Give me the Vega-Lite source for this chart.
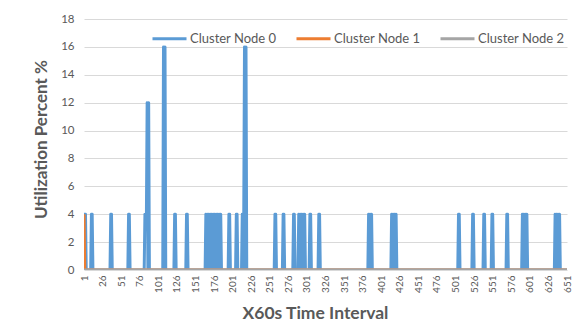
{
  "$schema": "https://vega.github.io/schema/vega-lite/v6.json",
  "autosize": "none",
  "width": 483,
  "height": 251,
  "padding": {"left": 84, "top": 19, "right": 6, "bottom": 59},
  "background": "white",
  "config": {
    "font": "Lato",
    "view": {"stroke": null},
    "axis": {"labelColor": "#595959", "titleColor": "#595959", "titleFontWeight": "bold"}
  },
  "data": {
    "values": [
      {"node": "Cluster Node 0", "interval": 1, "util": 0},
      {"node": "Cluster Node 0", "interval": 2, "util": 4},
      {"node": "Cluster Node 0", "interval": 3, "util": 4},
      {"node": "Cluster Node 0", "interval": 4, "util": 0},
      {"node": "Cluster Node 0", "interval": 10, "util": 0},
      {"node": "Cluster Node 0", "interval": 11, "util": 4},
      {"node": "Cluster Node 0", "interval": 12, "util": 4},
      {"node": "Cluster Node 0", "interval": 13, "util": 0},
      {"node": "Cluster Node 0", "interval": 36, "util": 0},
      {"node": "Cluster Node 0", "interval": 37, "util": 4},
      {"node": "Cluster Node 0", "interval": 38, "util": 4},
      {"node": "Cluster Node 0", "interval": 39, "util": 0},
      {"node": "Cluster Node 0", "interval": 60, "util": 0},
      {"node": "Cluster Node 0", "interval": 61, "util": 4},
      {"node": "Cluster Node 0", "interval": 62, "util": 4},
      {"node": "Cluster Node 0", "interval": 63, "util": 0},
      {"node": "Cluster Node 0", "interval": 82, "util": 0},
      {"node": "Cluster Node 0", "interval": 83, "util": 4},
      {"node": "Cluster Node 0", "interval": 85, "util": 4},
      {"node": "Cluster Node 0", "interval": 86, "util": 12},
      {"node": "Cluster Node 0", "interval": 87, "util": 0},
      {"node": "Cluster Node 0", "interval": 88, "util": 12},
      {"node": "Cluster Node 0", "interval": 89, "util": 0},
      {"node": "Cluster Node 0", "interval": 107, "util": 0},
      {"node": "Cluster Node 0", "interval": 108, "util": 16},
      {"node": "Cluster Node 0", "interval": 109, "util": 0},
      {"node": "Cluster Node 0", "interval": 110, "util": 16},
      {"node": "Cluster Node 0", "interval": 111, "util": 0},
      {"node": "Cluster Node 0", "interval": 122, "util": 0},
      {"node": "Cluster Node 0", "interval": 123, "util": 4},
      {"node": "Cluster Node 0", "interval": 124, "util": 4},
      {"node": "Cluster Node 0", "interval": 125, "util": 0},
      {"node": "Cluster Node 0", "interval": 138, "util": 0},
      {"node": "Cluster Node 0", "interval": 139, "util": 4},
      {"node": "Cluster Node 0", "interval": 140, "util": 4},
      {"node": "Cluster Node 0", "interval": 141, "util": 0},
      {"node": "Cluster Node 0", "interval": 164, "util": 0},
      {"node": "Cluster Node 0", "interval": 165, "util": 4},
      {"node": "Cluster Node 0", "interval": 166, "util": 0},
      {"node": "Cluster Node 0", "interval": 167, "util": 4},
      {"node": "Cluster Node 0", "interval": 168, "util": 0},
      {"node": "Cluster Node 0", "interval": 169, "util": 4},
      {"node": "Cluster Node 0", "interval": 170, "util": 0},
      {"node": "Cluster Node 0", "interval": 171, "util": 4},
      {"node": "Cluster Node 0", "interval": 172, "util": 0},
      {"node": "Cluster Node 0", "interval": 173, "util": 4},
      {"node": "Cluster Node 0", "interval": 174, "util": 0},
      {"node": "Cluster Node 0", "interval": 175, "util": 4},
      {"node": "Cluster Node 0", "interval": 176, "util": 0},
      {"node": "Cluster Node 0", "interval": 177, "util": 4},
      {"node": "Cluster Node 0", "interval": 178, "util": 0},
      {"node": "Cluster Node 0", "interval": 179, "util": 4},
      {"node": "Cluster Node 0", "interval": 180, "util": 0},
      {"node": "Cluster Node 0", "interval": 181, "util": 4},
      {"node": "Cluster Node 0", "interval": 182, "util": 0},
      {"node": "Cluster Node 0", "interval": 183, "util": 4},
      {"node": "Cluster Node 0", "interval": 184, "util": 0},
      {"node": "Cluster Node 0", "interval": 185, "util": 4},
      {"node": "Cluster Node 0", "interval": 186, "util": 0},
      {"node": "Cluster Node 0", "interval": 195, "util": 0},
      {"node": "Cluster Node 0", "interval": 196, "util": 4},
      {"node": "Cluster Node 0", "interval": 197, "util": 4},
      {"node": "Cluster Node 0", "interval": 198, "util": 0},
      {"node": "Cluster Node 0", "interval": 205, "util": 0},
      {"node": "Cluster Node 0", "interval": 206, "util": 4},
      {"node": "Cluster Node 0", "interval": 207, "util": 4},
      {"node": "Cluster Node 0", "interval": 208, "util": 0},
      {"node": "Cluster Node 0", "interval": 213, "util": 0},
      {"node": "Cluster Node 0", "interval": 214, "util": 4},
      {"node": "Cluster Node 0", "interval": 215, "util": 0},
      {"node": "Cluster Node 0", "interval": 216, "util": 4},
      {"node": "Cluster Node 0", "interval": 217, "util": 16},
      {"node": "Cluster Node 0", "interval": 218, "util": 0},
      {"node": "Cluster Node 0", "interval": 219, "util": 16},
      {"node": "Cluster Node 0", "interval": 220, "util": 0},
      {"node": "Cluster Node 0", "interval": 257, "util": 0},
      {"node": "Cluster Node 0", "interval": 258, "util": 4},
      {"node": "Cluster Node 0", "interval": 259, "util": 4},
      {"node": "Cluster Node 0", "interval": 260, "util": 0},
      {"node": "Cluster Node 0", "interval": 268, "util": 0},
      {"node": "Cluster Node 0", "interval": 269, "util": 4},
      {"node": "Cluster Node 0", "interval": 270, "util": 4},
      {"node": "Cluster Node 0", "interval": 271, "util": 0},
      {"node": "Cluster Node 0", "interval": 282, "util": 0},
      {"node": "Cluster Node 0", "interval": 283, "util": 4},
      {"node": "Cluster Node 0", "interval": 284, "util": 4},
      {"node": "Cluster Node 0", "interval": 285, "util": 0},
      {"node": "Cluster Node 0", "interval": 289, "util": 0},
      {"node": "Cluster Node 0", "interval": 290, "util": 4},
      {"node": "Cluster Node 0", "interval": 291, "util": 0},
      {"node": "Cluster Node 0", "interval": 292, "util": 4},
      {"node": "Cluster Node 0", "interval": 293, "util": 0},
      {"node": "Cluster Node 0", "interval": 294, "util": 4},
      {"node": "Cluster Node 0", "interval": 295, "util": 0},
      {"node": "Cluster Node 0", "interval": 296, "util": 4},
      {"node": "Cluster Node 0", "interval": 297, "util": 0},
      {"node": "Cluster Node 0", "interval": 298, "util": 4},
      {"node": "Cluster Node 0", "interval": 299, "util": 0},
      {"node": "Cluster Node 0", "interval": 304, "util": 0},
      {"node": "Cluster Node 0", "interval": 305, "util": 4},
      {"node": "Cluster Node 0", "interval": 306, "util": 4},
      {"node": "Cluster Node 0", "interval": 307, "util": 0},
      {"node": "Cluster Node 0", "interval": 316, "util": 0},
      {"node": "Cluster Node 0", "interval": 317, "util": 4},
      {"node": "Cluster Node 0", "interval": 318, "util": 4},
      {"node": "Cluster Node 0", "interval": 319, "util": 0},
      {"node": "Cluster Node 0", "interval": 383, "util": 0},
      {"node": "Cluster Node 0", "interval": 384, "util": 4},
      {"node": "Cluster Node 0", "interval": 385, "util": 0},
      {"node": "Cluster Node 0", "interval": 386, "util": 4},
      {"node": "Cluster Node 0", "interval": 387, "util": 0},
      {"node": "Cluster Node 0", "interval": 388, "util": 4},
      {"node": "Cluster Node 0", "interval": 389, "util": 0},
      {"node": "Cluster Node 0", "interval": 414, "util": 0},
      {"node": "Cluster Node 0", "interval": 415, "util": 4},
      {"node": "Cluster Node 0", "interval": 416, "util": 0},
      {"node": "Cluster Node 0", "interval": 417, "util": 4},
      {"node": "Cluster Node 0", "interval": 418, "util": 0},
      {"node": "Cluster Node 0", "interval": 419, "util": 4},
      {"node": "Cluster Node 0", "interval": 420, "util": 0},
      {"node": "Cluster Node 0", "interval": 421, "util": 4},
      {"node": "Cluster Node 0", "interval": 422, "util": 0},
      {"node": "Cluster Node 0", "interval": 504, "util": 0},
      {"node": "Cluster Node 0", "interval": 505, "util": 4},
      {"node": "Cluster Node 0", "interval": 506, "util": 4},
      {"node": "Cluster Node 0", "interval": 507, "util": 0},
      {"node": "Cluster Node 0", "interval": 523, "util": 0},
      {"node": "Cluster Node 0", "interval": 524, "util": 4},
      {"node": "Cluster Node 0", "interval": 525, "util": 4},
      {"node": "Cluster Node 0", "interval": 526, "util": 0},
      {"node": "Cluster Node 0", "interval": 538, "util": 0},
      {"node": "Cluster Node 0", "interval": 539, "util": 4},
      {"node": "Cluster Node 0", "interval": 540, "util": 4},
      {"node": "Cluster Node 0", "interval": 541, "util": 0},
      {"node": "Cluster Node 0", "interval": 549, "util": 0},
      {"node": "Cluster Node 0", "interval": 550, "util": 4},
      {"node": "Cluster Node 0", "interval": 551, "util": 4},
      {"node": "Cluster Node 0", "interval": 552, "util": 0},
      {"node": "Cluster Node 0", "interval": 569, "util": 0},
      {"node": "Cluster Node 0", "interval": 570, "util": 4},
      {"node": "Cluster Node 0", "interval": 571, "util": 4},
      {"node": "Cluster Node 0", "interval": 572, "util": 0},
      {"node": "Cluster Node 0", "interval": 590, "util": 0},
      {"node": "Cluster Node 0", "interval": 591, "util": 4},
      {"node": "Cluster Node 0", "interval": 592, "util": 0},
      {"node": "Cluster Node 0", "interval": 593, "util": 4},
      {"node": "Cluster Node 0", "interval": 594, "util": 0},
      {"node": "Cluster Node 0", "interval": 595, "util": 4},
      {"node": "Cluster Node 0", "interval": 596, "util": 0},
      {"node": "Cluster Node 0", "interval": 597, "util": 4},
      {"node": "Cluster Node 0", "interval": 598, "util": 0},
      {"node": "Cluster Node 0", "interval": 634, "util": 0},
      {"node": "Cluster Node 0", "interval": 635, "util": 4},
      {"node": "Cluster Node 0", "interval": 636, "util": 0},
      {"node": "Cluster Node 0", "interval": 637, "util": 4},
      {"node": "Cluster Node 0", "interval": 638, "util": 0},
      {"node": "Cluster Node 0", "interval": 639, "util": 4},
      {"node": "Cluster Node 0", "interval": 640, "util": 0},
      {"node": "Cluster Node 0", "interval": 641, "util": 4},
      {"node": "Cluster Node 0", "interval": 642, "util": 0},
      {"node": "Cluster Node 0", "interval": 651, "util": 0},
      {"node": "Cluster Node 1", "interval": 1, "util": 4},
      {"node": "Cluster Node 1", "interval": 2, "util": 0},
      {"node": "Cluster Node 1", "interval": 651, "util": 0},
      {"node": "Cluster Node 2", "interval": 1, "util": 0},
      {"node": "Cluster Node 2", "interval": 651, "util": 0}
    ]
  },
  "mark": {"type": "line", "strokeWidth": 3, "strokeJoin": "round", "strokeCap": "butt", "clip": true},
  "encoding": {
    "x": {
      "field": "interval",
      "type": "quantitative",
      "scale": {"domain": [1, 651], "nice": false, "zero": false},
      "axis": {
        "title": "X60s Time Interval",
        "titleFontSize": 17.5,
        "titlePadding": 12,
        "titleX": 231,
        "titleAlign": "center",
        "values": [1, 26, 51, 76, 101, 126, 151, 176, 201, 226, 251, 276, 301, 326, 351, 376, 401, 426, 451, 476, 501, 526, 551, 576, 601, 626, 651],
        "labelAngle": -90,
        "labelFontSize": 10,
        "labelPadding": 5,
        "labelFlush": false,
        "labelOverlap": false,
        "ticks": false,
        "domain": false,
        "grid": false
      }
    },
    "y": {
      "field": "util",
      "type": "quantitative",
      "scale": {"domain": [0, 18], "nice": false},
      "axis": {
        "title": "Utilization Percent %",
        "titleFontSize": 17,
        "titlePadding": 10,
        "titleY": 120,
        "titleAlign": "center",
        "values": [0, 2, 4, 6, 8, 10, 12, 14, 16, 18],
        "labelFontSize": 11.5,
        "labelPadding": 10,
        "ticks": false,
        "domain": false,
        "grid": true,
        "gridColor": "#D9D9D9",
        "gridWidth": 1
      }
    },
    "color": {
      "field": "node",
      "type": "nominal",
      "scale": {
        "domain": ["Cluster Node 0", "Cluster Node 1", "Cluster Node 2"],
        "range": ["#5B9BD5", "#ED7D31", "#A5A5A5"]
      },
      "legend": {
        "title": null,
        "orient": "none",
        "legendX": 67,
        "legendY": 1,
        "direction": "horizontal",
        "symbolType": "stroke",
        "symbolSize": 1156,
        "symbolStrokeWidth": 3,
        "labelFontSize": 13,
        "labelColor": "#595959",
        "labelOffset": 2,
        "columnPadding": 13
      }
    }
  }
}
